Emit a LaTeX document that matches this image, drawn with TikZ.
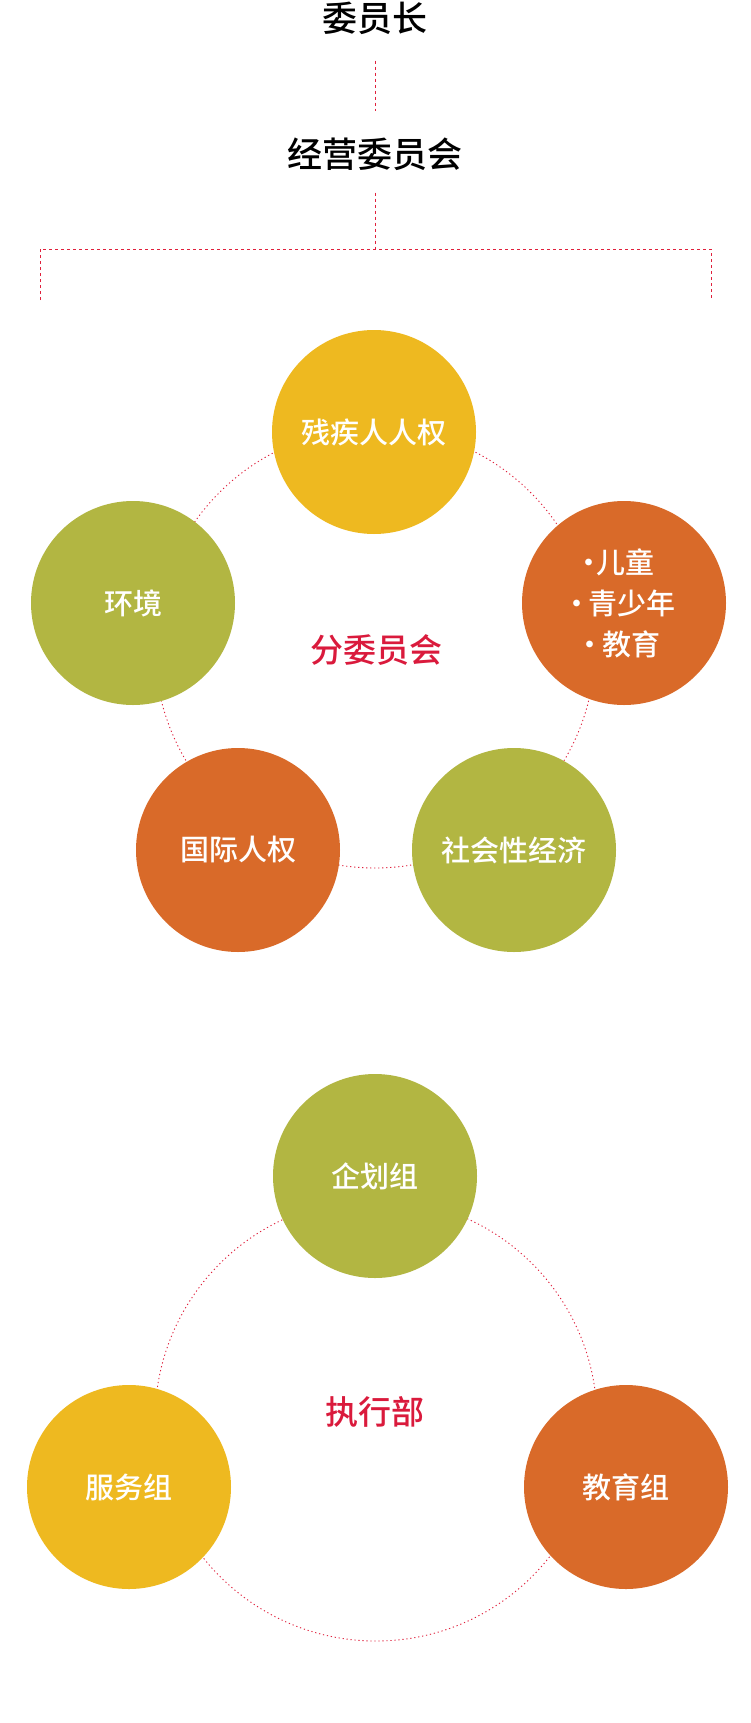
\documentclass[tikz,border=0pt]{standalone}
\usepackage{fontspec}
\setmainfont{Noto Sans CJK SC}
\IfFontExistsTF{Noto Sans CJK SC Medium}
  {\newfontfamily\medfontA{Noto Sans CJK SC Medium}\newcommand\medweight{\medfontA}}
  {\newfontfamily\medfontB{Noto Sans CJK SC}[BoldFont={Noto Sans CJK SC},BoldFeatures={FakeBold=0.6}]\newcommand\medweight{\medfontB\bfseries}}
\usetikzlibrary{calc}
\definecolor{cyellow}{HTML}{EEB920}
\definecolor{colive}{HTML}{B2B642}
\definecolor{corange}{HTML}{D96A29}
\definecolor{cred}{HTML}{DA1A3C}
\definecolor{cline}{HTML}{E0203C}
\newcommand\padr[1]{\rule{#1}{0pt}}
\tikzset{
  title/.style={inner sep=0pt, font=\fontsize{35}{40}\selectfont\medweight, text=black},
  centre/.style={inner sep=0pt, font=\fontsize{33}{38}\selectfont\medweight, text=cred},
  circ/.style={circle, minimum size=204pt, inner sep=0pt, text=white, align=center,
    font=\fontsize{29}{41}\selectfont\medweight},
  dashline/.style={draw=cline, line width=1pt, dash pattern=on 3pt off 3pt},
  dotline/.style={draw=cline, line width=0.9pt, dash pattern=on 1.2pt off 2.8pt},
}
\begin{document}
\begin{tikzpicture}[x=1pt,y=-1pt]
\useasboundingbox (0,0) rectangle (750,1723);
\fill[white] (0,0) rectangle (750,1723);

% top hierarchy
\node[title] (chair) at (375,18) {委员长};
\node[title] (mgmt) at (375,154) {经营委员会};
\draw[dashline] ($(chair.south)+(0,26)$) -- ($(mgmt.north)+(0,-26)$);
\coordinate (bmid) at (375,249);
\coordinate (bl) at (40,249);
\coordinate (br) at (711,249);
\coordinate (bld) at (40,300);
\coordinate (brd) at (711,300);
\draw[dashline] ($(mgmt.south)+(0,22)$) -- (bmid);
\draw[dashline] (bld) -- (bl) -- (br) -- (brd);

% subcommittees
\coordinate (subc) at (375,648);
\draw[dotline] (subc) circle (220pt);
\node[centre] (sub) at (376,650) {分委员会};
\node[circ, fill=cyellow] (dis) at (374,432) {残疾人人权};
\node[circ, fill=colive] (env) at (133,603) {环境};
\node[circ, fill=corange] (child) at (624,603)
  {·\hspace{-7pt}儿童\padr{20pt}\\·\hspace{-3pt}青少年\padr{11pt}\\·\hspace{-2pt}教育\padr{13pt}};
\node[circ, fill=corange] (intl) at (238,850) {国际人权};
\node[circ, fill=colive] (soc) at (514,850) {社会性经济};

% executive
\coordinate (exc) at (376,1420);
\draw[dotline] (exc) circle (221pt);
\node[centre] (exec) at (375,1412) {执行部};
\node[circ, fill=colive] (plan) at (375,1176) {企划组};
\node[circ, fill=cyellow] (serv) at (129,1487) {服务组};
\node[circ, fill=corange] (edu) at (626,1487) {教育组};
\end{tikzpicture}
\end{document}
